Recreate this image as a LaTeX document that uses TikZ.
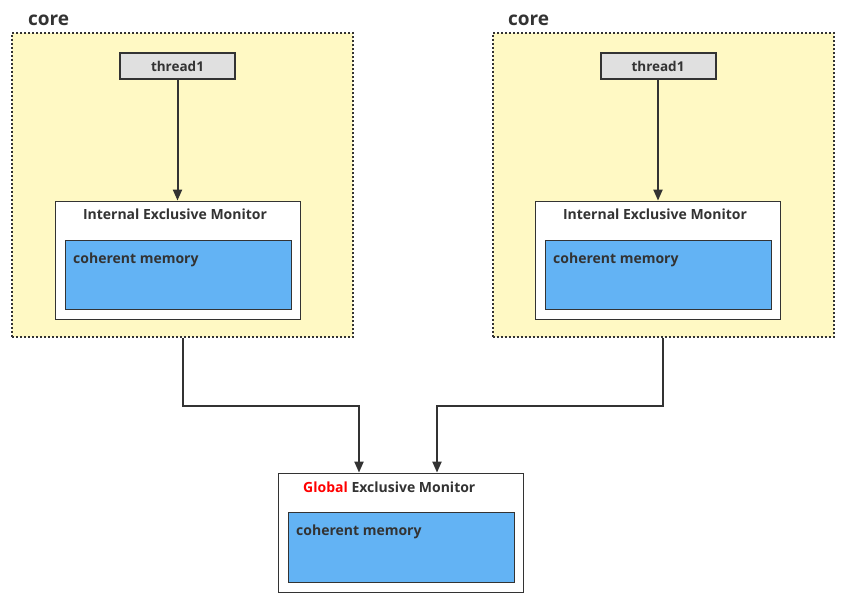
\documentclass[tikz,border=0pt]{standalone}
\usepackage{fontspec}
\setmainfont{Open Sans}[BoldFont={Open Sans Bold}]
\usetikzlibrary{arrows.meta,calc}
\definecolor{ink}{HTML}{333333}
\definecolor{corefill}{HTML}{FFF9C4}
\definecolor{blueb}{HTML}{63B3F4}
\definecolor{thr}{HTML}{E0E0E0}
\begin{document}
\begin{tikzpicture}[x=1pt,y=-1pt,
  corebox/.style={draw=ink,fill=corefill,line width=2pt,dash pattern=on 2pt off 2pt,minimum width=341pt,minimum height=304pt,inner sep=0pt},
  thrbox/.style={draw=ink,fill=thr,line width=2pt,minimum width=115pt,minimum height=26pt,inner sep=0pt,font=\bfseries\fontsize{13.5}{16}\selectfont,text=ink},
  monbox/.style={draw=ink,fill=white,line width=0.8pt,minimum width=245pt,minimum height=118pt,inner sep=0pt},
  membox/.style={draw=ink,fill=blueb,line width=0.8pt,minimum width=226pt,minimum height=69pt,inner sep=0pt},
  ttl/.style={font=\bfseries\fontsize{14}{16}\selectfont,text=ink,inner sep=0pt},
  corettl/.style={font=\bfseries\fontsize{19}{22}\selectfont,text=ink,inner sep=0pt,anchor=west},
  conn/.style={draw=ink,line width=2pt,-{Triangle[length=11pt,width=9pt]}}
]
\useasboundingbox (0,0) rectangle (846,605);
% left core
\node[corebox] (lcore) at (182.5,185) {};
\node[corettl] (lcl) at (28,20) {core};
\node[thrbox] (lthr) at (177.5,66) {thread1};
\node[monbox] (lmon) at (177.5,260) {};
\node[ttl] (lmt) at (175,214) {Internal Exclusive Monitor};
\node[membox] (lmem) at (178,274.5) {};
\node[ttl,anchor=west] (lmemt) at (73,260) {coherent memory};
\draw[conn] (lthr) -- (lmon);
% right core
\node[corebox] (rcore) at (663,185) {};
\node[corettl] (rcl) at (508,20) {core};
\node[thrbox] (rthr) at (658,66) {thread1};
\node[monbox] (rmon) at (658,260) {};
\node[ttl] (rmt) at (655,214) {Internal Exclusive Monitor};
\node[membox] (rmem) at (658,274.5) {};
\node[ttl,anchor=west] (rmemt) at (553,260) {coherent memory};
\draw[conn] (rthr) -- (rmon);
% global
\node[monbox,minimum height=119pt] (gmon) at (400.5,532.5) {};
\node[ttl,anchor=west] (gmt) at (303,487) {\textcolor{red}{Global} Exclusive Monitor};
\node[membox,minimum height=70pt] (gmem) at (401,547) {};
\node[ttl,anchor=west] (gmemt) at (296,532) {coherent memory};
\coordinate (gl) at ($(gmon.north)+(-41.5,0)$);
\coordinate (gr) at ($(gmon.north)+(36.5,0)$);
\draw[conn] (lcore.south) -- ++(0,68) -| (gl);
\draw[conn] (rcore.south) -- ++(0,68) -| (gr);
\end{tikzpicture}
\end{document}
